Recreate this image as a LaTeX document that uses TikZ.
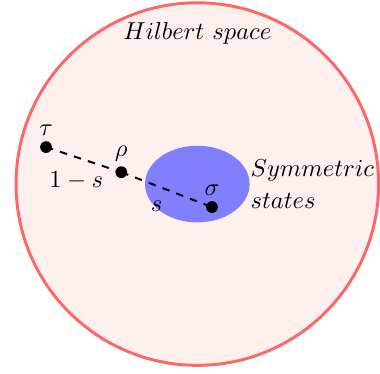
\documentclass[tikz,border=0pt]{standalone}
\usepackage{amsmath}
\usepackage{amssymb}
\usetikzlibrary{calc}
\usetikzlibrary{positioning}
\usetikzlibrary{shapes.geometric}

\begin{document}
\begin{tikzpicture}[scale=1]
            \useasboundingbox (-2.83,-2.71) rectangle (2.62,2.64);

            \draw[line width=1.2pt, draw=red!60, fill=red!6] (0,0) circle (2.6);
            \node at (0,2.16) (hilb) {\(Hilbert\ space\)};

            \node[ellipse, fill=blue!50, minimum width=1.5cm, minimum height=1.1cm,
                  inner sep=0pt] (sym) at (0,0) {};
            \node[anchor=west, align=left, inner sep=0pt] (symlab) at (sym.east)
                {\(Symmetric\)\\[1pt]\(states\)};

            \coordinate (T) at (-2.17,0.53);
            \coordinate (R) at (-1.09,0.17);
            \coordinate (S) at (0.21,-0.33);

            \node[above=1pt] at (T) (tau) {\(\tau\)};
            \node[above=1pt] at (R) (rho) {\(\rho\)};
            \node[above=1pt] at (S) (sig) {\(\sigma\)};

            \draw[thick, dashed] (T) -- node[below=1pt, xshift=-3pt] (oms) {\(1-s\)} (R);
            \draw[thick, dashed] (R) -- node[below left=1pt and -2pt] (sl) {\(s\)} (S);

            \foreach \p in {T,R,S}{
                \fill (\p) circle (2.4pt);
            }
        \end{tikzpicture}
\end{document}
